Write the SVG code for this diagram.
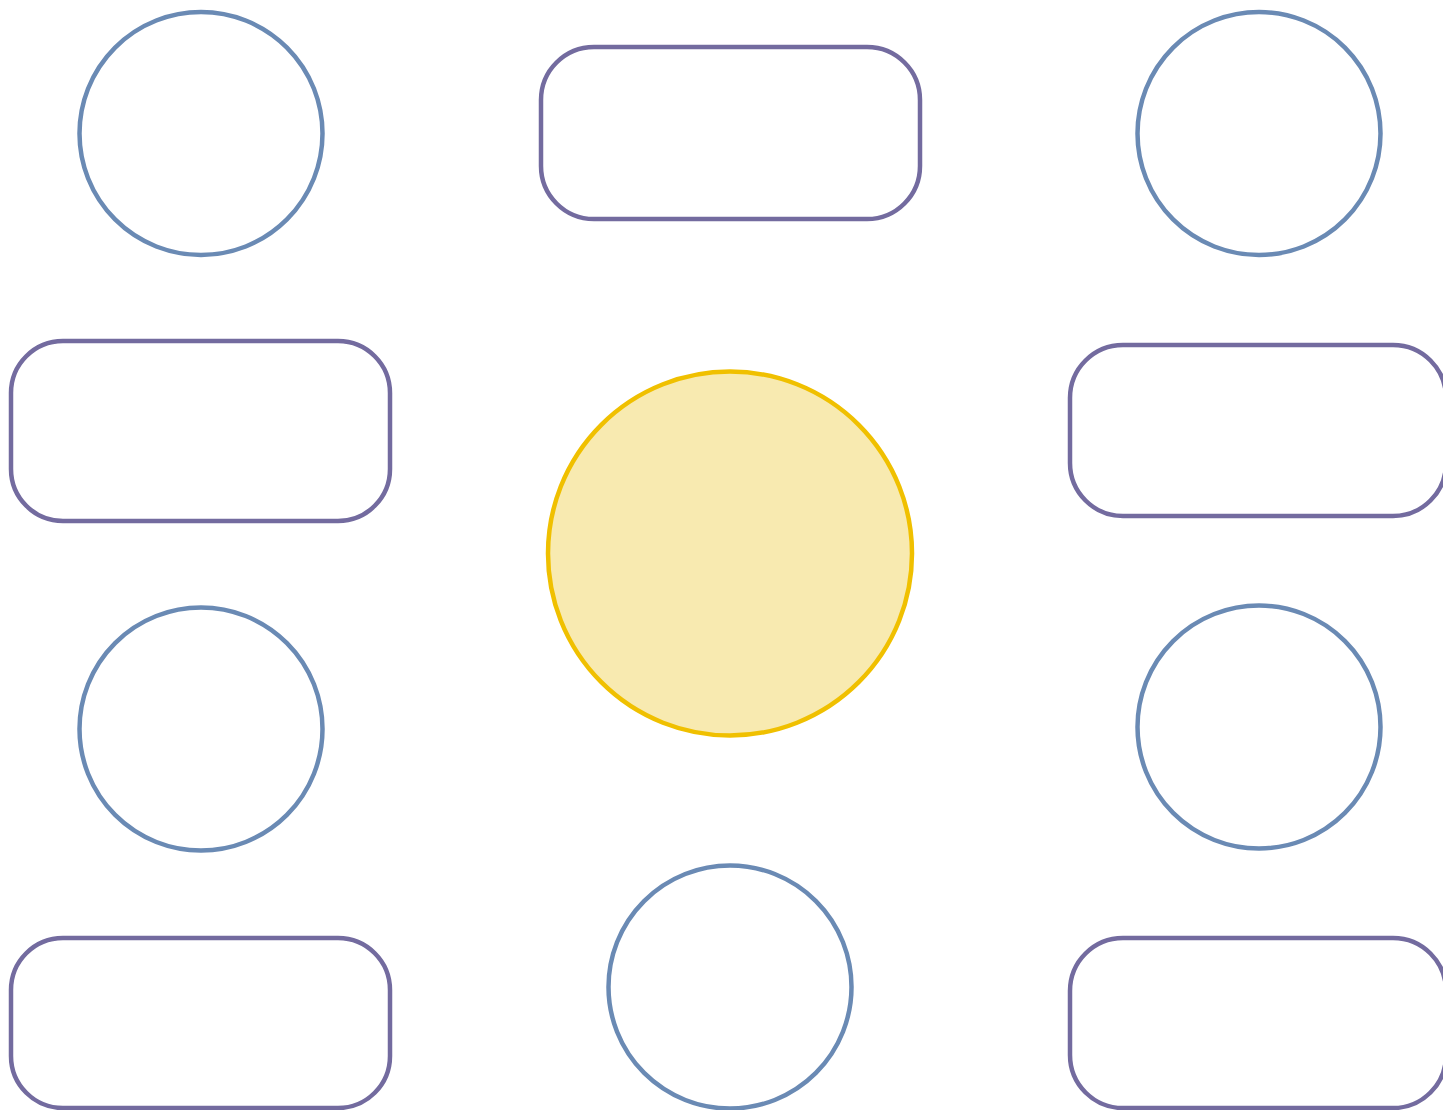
<svg xmlns="http://www.w3.org/2000/svg" width="1443" height="1110" viewBox="0 0 1443 1110">
<style>
.c{fill:#ffffff;stroke:#6a8ab4;stroke-width:4.5}
.r{fill:#ffffff;stroke:#736b9f;stroke-width:4.5}
.m{fill:#f8eab0;stroke:#f0c000;stroke-width:4.5}
</style>
<rect width="1443" height="1110" fill="#ffffff"/>
<g id="connectors"></g>
<g id="n-top-left"><circle class="c" cx="201" cy="133.5" r="121.5"/></g>
<g id="n-top-mid"><rect class="r" x="541" y="47" width="379" height="172" rx="53" ry="53"/></g>
<g id="n-top-right"><circle class="c" cx="1259" cy="133.5" r="121.5"/></g>
<g id="n-mid-left"><rect class="r" x="11" y="341" width="379" height="180" rx="52" ry="52"/></g>
<g id="n-center"><circle class="m" cx="730" cy="553.5" r="182"/></g>
<g id="n-mid-right"><rect class="r" x="1070" y="345" width="376" height="171" rx="53" ry="53"/></g>
<g id="n-low-left"><circle class="c" cx="201" cy="729" r="121.5"/></g>
<g id="n-low-right"><circle class="c" cx="1259" cy="727" r="121.5"/></g>
<g id="n-bot-left"><rect class="r" x="11" y="938" width="379" height="170" rx="52" ry="52"/></g>
<g id="n-bot-mid"><circle class="c" cx="730" cy="987" r="121.5"/></g>
<g id="n-bot-right"><rect class="r" x="1070" y="938" width="376" height="170" rx="53" ry="53"/></g>
</svg>
